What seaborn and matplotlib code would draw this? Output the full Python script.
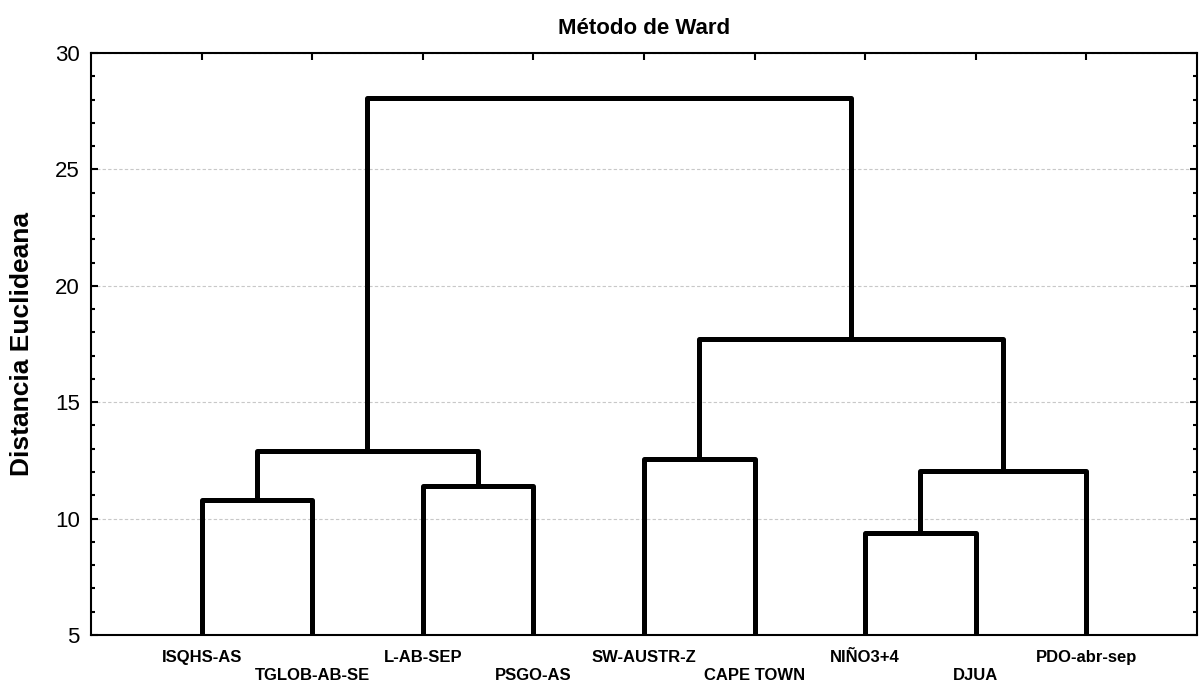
import matplotlib
matplotlib.use("Agg")
import matplotlib.pyplot as plt
from matplotlib.ticker import MultipleLocator, FixedLocator
import numpy as np
import pandas as pd
import seaborn as sns

# leaf labels in dendrogram order
leaves = ["ISQHS-AS", "TGLOB-AB-SE", "L-AB-SEP", "PSGO-AS", "SW-AUSTR-Z",
          "CAPE TOWN", "NIÑO3+4", "DJUA", "PDO-abr-sep"]

# merges: ids 0..8 are leaves, new clusters get 9, 10, ...
merge_left = [0, 2, 4, 6, 12, 9, 11, 14]
merge_right = [1, 3, 5, 7, 8, 10, 13, 15]
merge_height = [10.82, 11.42, 12.55, 9.37, 12.05, 12.90, 17.72, 28.08]

y_bottom = 5

sns.set_style("white")
plt.rcParams["font.family"] = ["Liberation Sans", "DejaVu Sans"]
plt.rcParams["text.color"] = "black"
plt.rcParams["axes.labelcolor"] = "black"
plt.rcParams["xtick.color"] = "black"
plt.rcParams["ytick.color"] = "black"

# build segments of each link
pos = {i: (i + 1.0, y_bottom) for i in range(len(leaves))}
rows = []
for k, (a, b, h) in enumerate(zip(merge_left, merge_right, merge_height)):
    xa, ya = pos[a]
    xb, yb = pos[b]
    for xx, yy in [(xa, ya), (xa, h), (xb, h), (xb, yb)]:
        rows.append({"link": k, "x": xx, "y": yy})
    pos[len(leaves) + k] = ((xa + xb) / 2, h)
segs = pd.DataFrame(rows)

fig = plt.figure(figsize=(11.99, 6.81), dpi=100)
ax = fig.add_axes([0.0759, 0.0675, 0.9224, 0.8547])

ax.yaxis.grid(True, which="major", color="#c8c8c8", linestyle=(0, (3, 2)), linewidth=0.8)
ax.set_axisbelow(True)

sns.lineplot(data=segs, x="x", y="y", units="link", estimator=None, sort=False,
             color="black", linewidth=3.6, ax=ax, legend=False,
             solid_joinstyle="round", solid_capstyle="butt")

ax.set_xlim(0, len(leaves) + 1)
ax.set_ylim(y_bottom, 30)
ax.yaxis.set_major_locator(MultipleLocator(5))
ax.yaxis.set_minor_locator(MultipleLocator(1))
ax.xaxis.set_major_locator(FixedLocator(np.arange(1, len(leaves) + 1)))
ax.set_xticklabels([])

for sp in ax.spines.values():
    sp.set_linewidth(1.5)
    sp.set_color("black")

ax.tick_params(axis="y", which="major", direction="in", length=5, width=1.5,
               left=True, right=True, labelsize=16, pad=8)
ax.tick_params(axis="y", which="minor", direction="in", length=3, width=1.5,
               left=True, right=True)
ax.tick_params(axis="x", which="major", direction="in", length=5, width=1.5,
               top=True, bottom=True)

# staggered leaf labels
for i, name in enumerate(leaves):
    off = -19.2 if i % 2 == 0 else -32.2
    ax.annotate(name, xy=(i + 1, y_bottom), xycoords="data",
                xytext=(0, off), textcoords="offset points",
                ha="center", va="baseline", fontsize=12, fontweight="bold")

ax.set_xlabel("")
ax.set_ylabel("Distancia Euclideana", fontsize=19, fontweight="bold", labelpad=15)
ax.set_title("Método de Ward", fontsize=16, fontweight="bold", pad=14)

fig.savefig("out.png", dpi=100)
